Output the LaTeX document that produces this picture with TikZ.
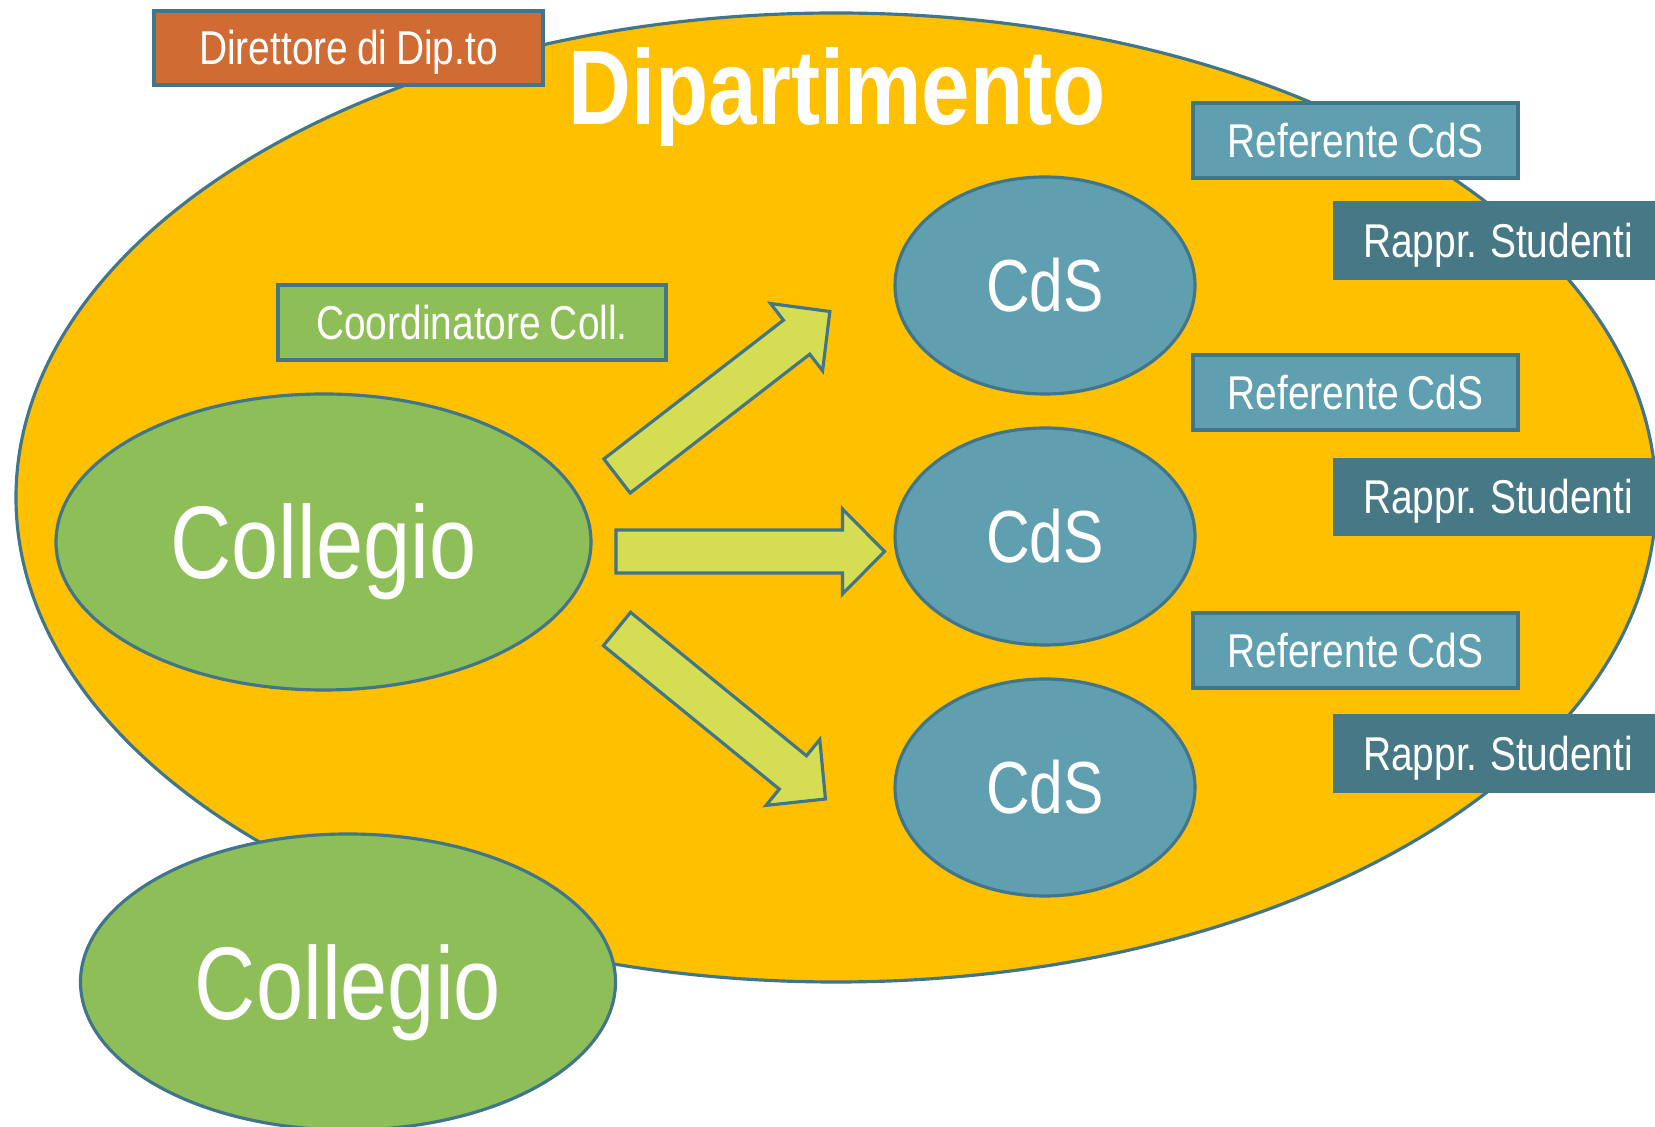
\documentclass[tikz,border=0pt]{standalone}
\usepackage{fontspec}
\setmainfont{Liberation Sans}[FakeStretch=0.82,WordSpace=0.82]
\usepackage{tikz}
\usetikzlibrary{shapes.geometric}

\definecolor{dipgold}{HTML}{FFC000}
\definecolor{edgeblue}{HTML}{41758A}
\definecolor{collgreen}{HTML}{8EBE58}
\definecolor{arrowlime}{HTML}{D5DE52}
\definecolor{dirorange}{HTML}{D06B34}
\definecolor{cdsblue}{HTML}{5F9FAF}
\definecolor{rapprblue}{HTML}{467886}

% fat block arrow: start, angle, length
\newcommand{\fatarrow}[3]{%
  \begin{scope}[shift={#1},rotate=#2]
    \draw[fat arrow] (0,-0.215) -- ({#3-0.42},-0.215) -- ({#3-0.42},-0.425)
      -- (#3,0) -- ({#3-0.42},0.425) -- ({#3-0.42},0.215) -- (0,0.215) -- cycle;
  \end{scope}}

\begin{document}
\begin{tikzpicture}[node distance=2.51cm, line width=0.9pt,
	blob/.style={ellipse,draw=edgeblue,text=white,inner sep=0pt},
	coll node/.style={blob,fill=collgreen,minimum width=5.35cm,minimum height=2.96cm,
		text height=0.74cm,text depth=0pt,font=\fontsize{29.4pt}{34pt}\selectfont},
	cds node/.style={blob,fill=cdsblue,minimum width=3cm,minimum height=2.17cm,
		text height=0.53cm,text depth=0pt,font=\fontsize{21pt}{25pt}\selectfont},
	tag/.style={rectangle,draw=edgeblue,text=white,inner sep=0pt,minimum height=0.75cm,
		text height=0.34cm,text depth=0pt,font=\fontsize{13.5pt}{16pt}\selectfont},
	ref tag/.style={tag,fill=cdsblue,minimum width=3.25cm},
	rappr tag/.style={tag,fill=rapprblue,draw=rapprblue,minimum width=3.26cm},
	fat arrow/.style={draw=edgeblue,fill=arrowlime,line join=miter}]

	\path[use as bounding box,fill=white] (0,0) rectangle (16.55,-11.27);

	\node[ellipse,draw=edgeblue,fill=dipgold,minimum width=16.4cm,minimum height=9.69cm] (dip) at (8.36,-4.975) {};
	\node[text=white,anchor=base,font=\bfseries\fontsize{30.2pt}{36pt}\selectfont] (title) at (8.37,-1.25) {Dipartimento};

	\node[tag,fill=dirorange,minimum width=3.89cm,minimum height=0.74cm] (dir) at (3.485,-0.48) {Direttore di Dip.to};
	\node[tag,fill=collgreen,minimum width=3.88cm] (coord) at (4.72,-3.225) {Coordinatore Coll.};

	\node[coll node] (coll1) at (3.235,-5.42) {Collegio};
	\node[coll node] (coll2) at (3.48,-9.82) {Collegio};

	\node[cds node] (cds1) at (10.45,-2.855) {CdS};
	\node[cds node] (cds2) [below of=cds1] {CdS};
	\node[cds node] (cds3) [below of=cds2] {CdS};

	\node[ref tag] (ref1) at (13.555,-1.405) {Referente CdS};
	\node[ref tag] (ref2) at (13.555,-3.925) {Referente CdS};
	\node[ref tag] (ref3) at (13.555,-6.505) {Referente CdS};

	\node[rappr tag] (rap1) at (14.98,-2.405) {Rappr. Studenti};
	\node[rappr tag] (rap2) at (14.98,-4.97) {Rappr. Studenti};
	\node[rappr tag] (rap3) at (14.98,-7.535) {Rappr. Studenti};

	\fatarrow{(6.17,-4.76)}{37.7}{2.69}
	\fatarrow{(6.16,-5.515)}{0}{2.685}
	\fatarrow{(6.17,-6.29)}{-39.2}{2.69}
\end{tikzpicture}
\end{document}
